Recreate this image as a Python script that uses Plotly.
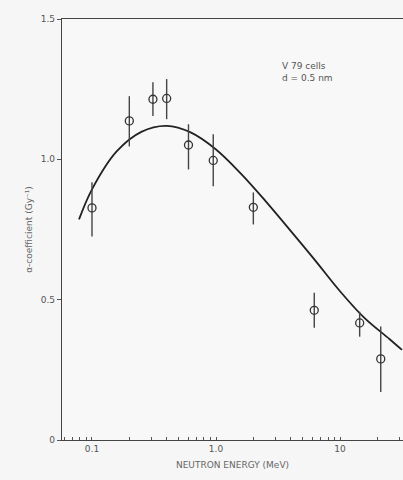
import plotly.graph_objects as go
import numpy as np

# Measured points
energy = [0.1, 0.2, 0.31, 0.40, 0.60, 0.95, 2.0, 6.2, 14.4, 21.3]
alpha = [0.827, 1.137, 1.214, 1.217, 1.051, 0.996, 0.829, 0.462, 0.417, 0.289]
err_hi = [0.918, 1.225, 1.275, 1.286, 1.125, 1.089, 0.882, 0.525, 0.457, 0.404]
err_lo = [0.725, 1.046, 1.154, 1.143, 0.964, 0.904, 0.768, 0.400, 0.368, 0.171]

# Model curve
curve_e = [0.0786, 0.1, 0.158, 0.25, 0.4, 0.63, 1.0, 1.58, 2.5, 4.0, 6.3, 10, 15.8, 25, 31.6]
curve_a = [0.786, 0.893, 1.028, 1.098, 1.119, 1.095, 1.035, 0.95, 0.852, 0.745, 0.64, 0.53, 0.434, 0.36, 0.321]

major = [0.1, 1.0, 10]
major_lbl = ["0.1", "1.0", "10"]

plus = [h - v for h, v in zip(err_hi, alpha)]
minus = [v - l for l, v in zip(err_lo, alpha)]

tv, tt = [], []
for dec in [0.01, 0.1, 1, 10]:
    for m in range(1, 10):
        v = round(dec * m, 4)
        if 0.058 <= v <= 32:
            tv.append(v)
            tt.append("")
for v, l in zip(major, major_lbl):
    i = tv.index(v)
    tt[i] = l

fig = go.Figure()
fig.add_trace(go.Scatter(
    x=curve_e, y=curve_a, mode="lines", line=dict(color="#222", width=1.8, shape="spline", smoothing=1.0),
    hoverinfo="skip", showlegend=False))
fig.add_trace(go.Scatter(
    x=energy, y=alpha, mode="markers",
    marker=dict(symbol="circle-open", size=8, color="#333", line=dict(width=1.3)),
    error_y=dict(type="data", symmetric=False, array=plus, arrayminus=minus,
                 color="#444", thickness=1.4, width=0),
    showlegend=False))

fig.add_annotation(x=0.80, y=0.905, xref="paper", yref="paper",
                   text="V 79 cells<br>d = 0.5 nm", showarrow=False, align="left",
                   font=dict(size=9, color="#555", family="DejaVu Sans"))

fig.update_layout(
    width=403, height=480,
    margin=dict(l=62, r=0, t=19, b=40),
    paper_bgcolor="#f6f6f6", plot_bgcolor="#f8f8f8",
    font=dict(family="DejaVu Sans", size=9, color="#555"),
    xaxis=dict(type="log", range=[np.log10(0.0573), np.log10(32.2)],
               tickvals=tv, ticktext=tt, ticks="inside", ticklen=3, tickcolor="#555",
               showline=True, linecolor="#444", linewidth=1.2, mirror=True,
               showgrid=False, zeroline=False,
               title=dict(text="NEUTRON ENERGY (MeV)", font=dict(size=9, color="#666"), standoff=8)),
    yaxis=dict(range=[0, 1.5], tickvals=[0, 0.5, 1.0, 1.5], ticktext=["0", "0.5", "1.0", "1.5"],
               ticks="outside", ticklen=4, tickcolor="#555",
               showline=True, linecolor="#444", linewidth=1.2,
               showgrid=False, zeroline=False,
               title=dict(text="α-coefficient (Gy⁻¹)", font=dict(size=9, color="#666"), standoff=6)),
)

fig.write_html("out.html")
